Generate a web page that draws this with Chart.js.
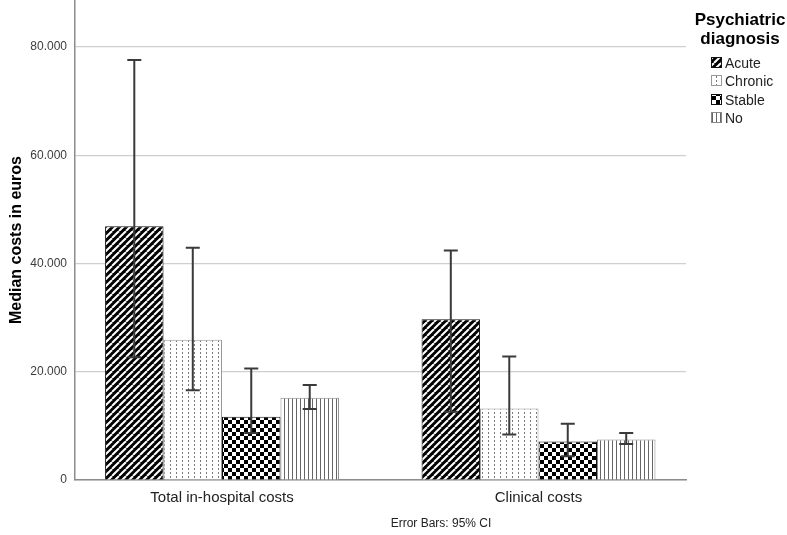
<!DOCTYPE html>
<html><head><meta charset="utf-8">
<script src="https://cdn.jsdelivr.net/npm/chart.js@4.4.0/dist/chart.umd.min.js"></script>
<style>html,body{margin:0;padding:0;background:#fff}#wrap{width:787px;height:535px;position:relative}</style>
</head><body><div id="wrap"><canvas id="c" width="787" height="535"></canvas></div>
<script>
const categories = ['Total in-hospital costs', 'Clinical costs'];
const seriesNames = ['Acute', 'Chronic', 'Stable', 'No'];
const acute = [46900, 29700];
const acuteLow = [22700, 12600];
const acuteHigh = [77600, 42400];
const chronic = [25900, 13200];
const chronicLow = [16600, 8400];
const chronicHigh = [42900, 22800];
const stable = [11700, 7100];
const stableLow = [8700, 4400];
const stableHigh = [20600, 10400];
const noDiag = [15200, 7500];
const noLow = [13100, 6650];
const noHigh = [17550, 8700];
const yTicks = [0, 20000, 40000, 60000, 80000];
const yMax = 88700;
const legendTitle = ['Psychiatric', 'diagnosis'];
const yTitle = 'Median costs in euros';
const footnote = 'Error Bars: 95% CI';

const FONT = "'Liberation Sans', Arial, sans-serif";

function makePattern(kind) {
  const c = document.createElement('canvas');
  let g;
  if (kind === 'acute') {
    c.width = 7; c.height = 7; g = c.getContext('2d');
    g.fillStyle = '#000'; g.fillRect(0, 0, 7, 7);
    g.strokeStyle = '#fff'; g.lineWidth = 2;
    for (const k of [-7, 0, 7]) { g.beginPath(); g.moveTo(k, 7); g.lineTo(k + 7, 0); g.stroke(); }
  } else if (kind === 'chronic') {
    c.width = 6; c.height = 4; g = c.getContext('2d');
    g.fillStyle = '#fff'; g.fillRect(0, 0, 6, 4);
    g.fillStyle = '#7a7a7a'; g.fillRect(2, 0, 1, 2);
  } else if (kind === 'stable') {
    c.width = 8; c.height = 8; g = c.getContext('2d');
    g.fillStyle = '#fff'; g.fillRect(0, 0, 8, 8);
    g.fillStyle = '#000'; g.fillRect(0, 0, 4, 4); g.fillRect(4, 4, 4, 4);
  } else {
    c.width = 4; c.height = 1; g = c.getContext('2d');
    g.fillStyle = '#fff'; g.fillRect(0, 0, 4, 1);
    g.fillStyle = '#666'; g.fillRect(0, 0, 1, 1);
  }
  const ctx = document.createElement('canvas').getContext('2d');
  return ctx.createPattern(c, 'repeat');
}
const patterns = [makePattern('acute'), makePattern('chronic'), makePattern('stable'), makePattern('no')];
const borders = ['#111', '#999', '#111', '#888'];
const values = [acute, chronic, stable, noDiag];
const lows = [acuteLow, chronicLow, stableLow, noLow];
const highs = [acuteHigh, chronicHigh, stableHigh, noHigh];

const datasets = seriesNames.map((name, i) => ({
  label: name,
  data: values[i].map((v, j) => ({ x: j, y: v })),
  backgroundColor: patterns[i],
  borderColor: borders[i],
  borderWidth: 1,
  categoryPercentage: 0.739,
  barPercentage: 1.0
}));

const errorBars = {
  id: 'errorBars',
  afterDatasetsDraw(chart) {
    const ctx = chart.ctx, ys = chart.scales.y;
    ctx.save();
    ctx.strokeStyle = '#3a3a3a';
    ctx.lineWidth = 2;
    chart.data.datasets.forEach((ds, i) => {
      const meta = chart.getDatasetMeta(i);
      meta.data.forEach((el, j) => {
        const x = el.x;
        const yt = ys.getPixelForValue(highs[i][j]);
        const yb = ys.getPixelForValue(lows[i][j]);
        ctx.beginPath();
        ctx.moveTo(x, yt); ctx.lineTo(x, yb);
        ctx.moveTo(x - 7, yt); ctx.lineTo(x + 7, yt);
        ctx.moveTo(x - 7, yb); ctx.lineTo(x + 7, yb);
        ctx.stroke();
      });
    });
    ctx.restore();
  }
};

const extras = {
  id: 'extras',
  afterDraw(chart) {
    const ctx = chart.ctx;
    ctx.save();
    ctx.fillStyle = '#000';
    ctx.font = 'bold 17px ' + FONT;
    ctx.textAlign = 'center';
    ctx.textBaseline = 'middle';
    ctx.fillText(legendTitle[0], 740, 20);
    ctx.fillText(legendTitle[1], 740, 39);
    ctx.font = '14px ' + FONT;
    ctx.textAlign = 'left';
    const rowsY = [63, 81, 100, 118];
    seriesNames.forEach((name, i) => {
      const y = rowsY[i];
      ctx.fillStyle = patterns[i];
      ctx.fillRect(711, y - 6, 11, 11);
      ctx.strokeStyle = borders[i];
      ctx.lineWidth = 1;
      ctx.strokeRect(711.5, y - 5.5, 10, 10);
      ctx.fillStyle = '#222';
      ctx.fillText(name, 725, y + 1);
    });
    ctx.font = '12px ' + FONT;
    ctx.textAlign = 'center';
    ctx.fillStyle = '#222';
    ctx.fillText(footnote, 441, 524);
    ctx.restore();
  }
};

new Chart(document.getElementById('c'), {
  type: 'bar',
  data: { datasets },
  plugins: [errorBars, extras],
  options: {
    responsive: false,
    animation: false,
    layout: { padding: { left: 0, right: 101, top: 0, bottom: 0 } },
    plugins: { legend: { display: false }, tooltip: { enabled: false } },
    scales: {
      x: {
        type: 'linear',
        offset: false,
        bounds: 'data',
        min: -0.4645,
        max: 1.466,
        afterBuildTicks(scale) { scale.ticks = categories.map((c, i) => ({ value: i })); },
        afterFit(scale) { scale.height = 55; scale.paddingLeft = 0; scale.paddingRight = 0; },
        grid: { display: false, drawTicks: false, offset: false },
        border: { display: true, color: '#8c8c8c', width: 1.5 },
        ticks: {
          padding: 9,
          color: '#222',
          autoSkip: false,
          maxRotation: 0,
          font: { family: FONT, size: 15 },
          callback: (v) => categories[Math.round(v)] || ''
        }
      },
      y: {
        min: 0,
        max: yMax,
        afterBuildTicks(scale) { scale.ticks = yTicks.map(v => ({ value: v })); },
        afterFit(scale) { scale.width = 75; scale.paddingTop = 0; scale.paddingBottom = 0; },
        grid: { color: '#cfcfcf', lineWidth: 1.2, drawTicks: false },
        border: { display: true, color: '#8c8c8c', width: 1.5 },
        ticks: {
          padding: 8,
          color: '#3c3c3c',
          font: { family: FONT, size: 12 },
          callback: (v) => v === 0 ? '0' : v.toLocaleString('de-DE', { minimumFractionDigits: 0 })
        },
        title: {
          display: true,
          text: yTitle,
          color: '#000',
          font: { family: FONT, size: 16, weight: 'bold' },
          padding: { top: 7, bottom: 4 }
        }
      }
    }
  }
});
</script>
</body></html>
